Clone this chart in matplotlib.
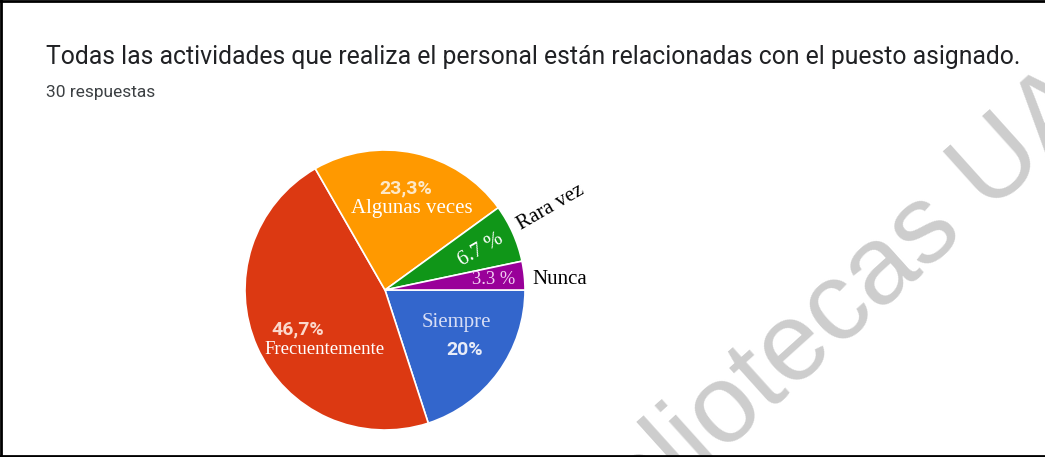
import matplotlib.pyplot as plt

# survey answers (30 respuestas)
labels = ['Siempre', 'Frecuentemente', 'Algunas veces', 'Rara vez', 'Nunca']
shares = [20.0, 46.7, 23.3, 6.7, 3.3]
colors = ['#3366cc', '#dc3912', '#ff9900', '#109618', '#990099']
pct_text = ['20%', '46,7%', '23,3%', '6.7 %', '3.3 %']

title = 'Todas las actividades que realiza el personal están relacionadas con el puesto asignado.'
subtitle = '30 respuestas'

W, H = 1045, 457
fig = plt.figure(figsize=(W / 100, H / 100), dpi=100)
ax = fig.add_axes([0, 0, 1, 1])

ax.pie(shares, colors=colors, startangle=0, counterclock=False,
       center=(385, 167), radius=140,
       wedgeprops=dict(edgecolor='white', linewidth=1.2))
ax.set_xlim(0, W)
ax.set_ylim(0, H)
ax.axis('off')

# watermark
ax.text(815, 126, 'Bibliotecas UA', fontsize=80, family='Liberation Sans',
        color='#cdcdcd', rotation=42, ha='center', va='center',
        rotation_mode='anchor', zorder=0.5)

# header
ax.text(46, 393, title, fontsize=17.8, family='Roboto', color='#202124',
        ha='left', va='baseline')
ax.text(46, 360, subtitle, fontsize=12.5, family='Roboto', color='#3c4043',
        ha='left', va='baseline')

roboto = dict(family='Roboto', fontweight='bold', fontsize=14, ha='center', va='center')
times = dict(family='Liberation Serif', fontsize=15, ha='center', va='center')

# Algunas veces
ax.text(406, 269, pct_text[2], color='#fde8c8', **roboto)
ax.text(412, 248, labels[2], color='white', **times)
# Rara vez
ax.text(551, 249, labels[3], color='black', rotation=30, **times)
ax.text(481, 207, pct_text[3], color='white', rotation=30, **times)
# Nunca
ax.text(494, 177, pct_text[4], color='#f2d0f2', **dict(times, fontsize=13.3))
ax.text(560, 177, labels[4], color='black', **times)
# Siempre
ax.text(456, 135, labels[0], color='#d8def5', **times)
ax.text(465, 107, pct_text[0], color='#e8ecf8', **roboto)
# Frecuentemente
ax.text(298, 128, pct_text[1], color='#fbd8cc', **roboto)
ax.text(325, 108, labels[1], color='white', **dict(times, fontsize=13.5))

# frame
for xs, ys in [([1, 1], [0, H]), ([0, W], [H - 1, H - 1]), ([0, W], [1, 1])]:
    ax.plot(xs, ys, color='black', linewidth=2, clip_on=False)

fig.savefig('out.png', dpi=100)
